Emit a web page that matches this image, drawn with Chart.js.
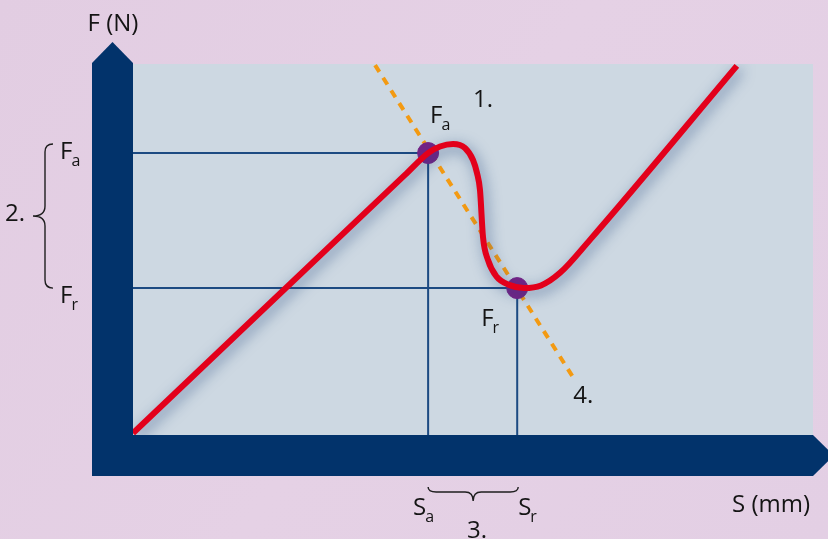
<!DOCTYPE html>
<html>
<head>
<meta charset="utf-8">
<script src="https://cdn.jsdelivr.net/npm/chart.js@4/dist/chart.umd.min.js"></script>
<style>
html,body{margin:0;padding:0;background:#e3cee3;}
canvas{display:block;}
</style>
</head>
<body>
<canvas id="c" width="828" height="539"></canvas>
<script>
// ---- data (S in arbitrary mm units 0..100, F in arbitrary N units 0..100) ----
const curveS = [0, 40.0, 43.4, 45.15, 47.06, 48.82, 50.0, 50.59, 51.03, 51.47, 52.2, 53.5, 55.4, 57.5, 60.0, 62.8, 67.2, 88.8];
const curveF = [0.5, 70.1, 76.0, 77.76, 78.44, 77.36, 74.12, 70.62, 66.0, 53.37, 47.2, 42.6, 40.4, 39.6, 40.3, 43.7, 52.6, 99.5];
const Sa = 43.4, Fa = 76.0;
const Sr = 56.5, Fr = 39.6;
const tangentS = [35.6, 64.6];
const tangentF = [99.7, 15.9];
const axisTitles = ['F (N)', 'S (mm)'];
const markLabels = ['1.', '2.', '3.', '4.'];

const toXY = (xs, ys) => xs.map((x, i) => ({x, y: ys[i]}));

const FONT = '"Open Sans", "Noto Sans", sans-serif';
const FS = 24;

function subText(ctx, main, sub, x, y) {
  ctx.font = FS + 'px ' + FONT;
  ctx.fillText(main, x, y);
  const w = ctx.measureText(main).width;
  ctx.font = '16px ' + FONT;
  ctx.fillText(sub, x + w - 1, y + 7);
}

const decor = {
  id: 'decor',
  beforeDraw(chart) {
    const {ctx, chartArea: a, width, height} = chart;
    ctx.save();
    const g = ctx.createLinearGradient(0, 0, width, height);
    g.addColorStop(0, '#e2cde2');
    g.addColorStop(0.5, '#e5d1e5');
    g.addColorStop(1, '#e3cfe4');
    ctx.fillStyle = g;
    ctx.fillRect(0, 0, width, height);
    ctx.fillStyle = '#cdd8e2';
    ctx.fillRect(a.left, a.top, a.right - a.left, a.bottom - a.top);
    ctx.restore();
  },
  beforeDatasetsDraw(chart) {
    const {ctx, chartArea: a} = chart;
    const T = 41;
    ctx.save();
    ctx.fillStyle = '#02336b';
    const vx0 = a.left - T, vx1 = a.left;
    ctx.beginPath();
    ctx.moveTo(vx0, a.bottom + T);
    ctx.lineTo(vx0, a.top - 1);
    ctx.lineTo((vx0 + vx1) / 2, a.top - 22);
    ctx.lineTo(vx1, a.top - 1);
    ctx.lineTo(vx1, a.bottom);
    ctx.closePath();
    ctx.fill();
    const hy0 = a.bottom, hy1 = a.bottom + T;
    ctx.beginPath();
    ctx.moveTo(vx0, hy0);
    ctx.lineTo(a.right, hy0);
    ctx.lineTo(a.right + 21, (hy0 + hy1) / 2);
    ctx.lineTo(a.right, hy1);
    ctx.lineTo(vx0, hy1);
    ctx.closePath();
    ctx.fill();
    ctx.restore();
  },
  beforeDatasetDraw(chart, args) {
    if (args.index === 0) {
      const ctx = chart.ctx;
      ctx.save();
      ctx.shadowColor = 'rgba(35,70,125,0.6)';
      ctx.shadowBlur = 14;
      ctx.shadowOffsetX = 3;
      ctx.shadowOffsetY = 4;
    }
  },
  afterDatasetDraw(chart, args) {
    if (args.index === 0) chart.ctx.restore();
  },
  afterDraw(chart) {
    const {ctx, chartArea: a, scales: {x, y}} = chart;
    ctx.save();
    ctx.fillStyle = '#141414';
    ctx.textBaseline = 'alphabetic';
    ctx.font = FS + 'px ' + FONT;
    ctx.textAlign = 'center';
    ctx.fillText(axisTitles[0], a.left - 20, 31);
    ctx.textAlign = 'left';
    ctx.fillText(axisTitles[1], 732, 512);

    const pxa = x.getPixelForValue(Sa), pya = y.getPixelForValue(Fa);
    const pxr = x.getPixelForValue(Sr), pyr = y.getPixelForValue(Fr);
    const tEndX = x.getPixelForValue(tangentS[1]), tEndY = y.getPixelForValue(tangentF[1]);

    subText(ctx, 'F', 'a', pxa + 2, pya - 30);
    subText(ctx, 'F', 'r', pxr - 36, pyr + 38);
    ctx.font = FS + 'px ' + FONT;
    ctx.fillText(markLabels[0], 473, 107);
    ctx.fillText(markLabels[3], tEndX + 1, tEndY + 27);

    subText(ctx, 'F', 'a', 60, pya + 6);
    subText(ctx, 'F', 'r', 60, pyr + 15);
    ctx.font = FS + 'px ' + FONT;
    ctx.fillText(markLabels[1], 5, 221);

    subText(ctx, 'S', 'a', pxa - 15, 515);
    subText(ctx, 'S', 'r', pxr + 1, 515);
    ctx.font = FS + 'px ' + FONT;
    ctx.fillText(markLabels[2], 467, 538);

    ctx.strokeStyle = '#1e1e1e';
    ctx.lineWidth = 1.4;
    const bx = 45, top = pya - 9, bot = pyr + 0, mid = (top + bot) / 2;
    ctx.beginPath();
    ctx.moveTo(bx + 8, top);
    ctx.quadraticCurveTo(bx, top, bx, top + 8);
    ctx.lineTo(bx, mid - 10);
    ctx.quadraticCurveTo(bx, mid, bx - 12, mid);
    ctx.quadraticCurveTo(bx, mid, bx, mid + 10);
    ctx.lineTo(bx, bot - 8);
    ctx.quadraticCurveTo(bx, bot, bx + 8, bot);
    ctx.stroke();
    const by = 492, l = pxa, r = pxr + 1, m = (l + r) / 2;
    ctx.beginPath();
    ctx.moveTo(l, by - 5);
    ctx.quadraticCurveTo(l, by, l + 8, by);
    ctx.lineTo(m - 8, by);
    ctx.quadraticCurveTo(m, by, m, by + 9);
    ctx.quadraticCurveTo(m, by, m + 8, by);
    ctx.lineTo(r - 8, by);
    ctx.quadraticCurveTo(r, by, r, by - 5);
    ctx.stroke();
    ctx.restore();
  }
};

new Chart(document.getElementById('c'), {
  type: 'line',
  data: {
    datasets: [
      {
        label: 'F(S)',
        data: toXY(curveS, curveF),
        borderColor: '#e3001b',
        borderWidth: 6,
        pointRadius: 0,
        cubicInterpolationMode: 'monotone',
        borderCapStyle: 'butt',
        order: 0
      },
      {
        label: 'points',
        type: 'scatter',
        data: [{x: Sa, y: Fa}, {x: Sr, y: Fr}],
        backgroundColor: '#762286',
        borderColor: '#762286',
        pointRadius: 10.5,
        order: 1
      },
      {
        label: 'tangent',
        data: toXY(tangentS, tangentF),
        borderColor: '#f39a12',
        borderWidth: 4,
        borderDash: [8, 7],
        pointRadius: 0,
        tension: 0,
        order: 2
      },
      {
        label: 'ref a',
        data: [{x: 0, y: Fa}, {x: Sa, y: Fa}, {x: Sa, y: 0}],
        borderColor: '#1c4a82',
        borderWidth: 2,
        pointRadius: 0,
        tension: 0,
        order: 3
      },
      {
        label: 'ref r',
        data: [{x: 0, y: Fr}, {x: Sr, y: Fr}, {x: Sr, y: 0}],
        borderColor: '#1c4a82',
        borderWidth: 2,
        pointRadius: 0,
        tension: 0,
        order: 3
      }
    ]
  },
  options: {
    responsive: false,
    animation: false,
    layout: {padding: {left: 133, right: 15, top: 64, bottom: 104}},
    scales: {
      x: {type: 'linear', min: 0, max: 100, display: false},
      y: {type: 'linear', min: 0, max: 100, display: false}
    },
    plugins: {legend: {display: false}, tooltip: {enabled: false}}
  },
  plugins: [decor]
});
</script>
</body>
</html>
